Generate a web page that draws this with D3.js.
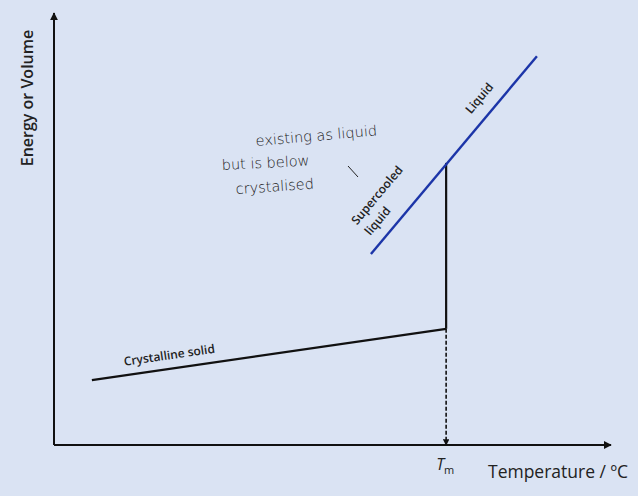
<!DOCTYPE html>
<html>
<head>
<meta charset="utf-8">
<script src="https://cdn.jsdelivr.net/npm/d3@7"></script>
<style>
  html, body { margin: 0; padding: 0; background: #dae3f3; }
  svg { display: block; }
  .label { font-family: "Open Sans", sans-serif; fill: #222; }
  .note { font-family: "DejaVu Sans", sans-serif; font-weight: 200; fill: #1a1a1a; }
</style>
</head>
<body>
<div id="chart"></div>
<script>
'use strict';

// --- DATA (arbitrary units, temperature on x, energy/volume on y)
var solidTemps = [0.68, 7.04];
var solidEnergy = [1.50, 2.69];
var liquidTemps = [5.69, 8.67];
var liquidEnergy = [4.42, 9.00];
var meltTemp = 7.04;
var jumpEnergy = [2.69, 6.53];
var noteLines = ['existing as liquid', 'but is below', 'crystalised'];

// --- PROPERTIES
var width = 638, height = 496;
var x = d3.scaleLinear().domain([0, 10]).range([54, 611]);
var y = d3.scaleLinear().domain([0, 10]).range([445, 13]);
var line = d3.line()
  .x(function(d) { return x(d[0]); })
  .y(function(d) { return y(d[1]); });

var svg = d3.select('#chart').append('svg')
  .attr('width', width)
  .attr('height', height);

svg.append('rect').attr('width', width).attr('height', height).attr('fill', '#dae3f3');

// arrow heads
var defs = svg.append('defs');
defs.append('marker')
  .attr('id', 'arrow')
  .attr('viewBox', '0 0 10 10')
  .attr('refX', 9).attr('refY', 5)
  .attr('markerWidth', 4).attr('markerHeight', 4)
  .attr('markerUnits', 'strokeWidth')
  .attr('orient', 'auto')
  .append('path').attr('d', 'M0,0 L10,5 L0,10 Z').attr('fill', '#111');

// --- AXES (plain arrows, no ticks)
svg.append('path')
  .attr('d', line([[0, 0], [0, 10]]))
  .attr('stroke', '#111').attr('stroke-width', 2).attr('fill', 'none')
  .attr('marker-end', 'url(#arrow)');
svg.append('path')
  .attr('d', line([[0, 0], [10, 0]]))
  .attr('stroke', '#111').attr('stroke-width', 2).attr('fill', 'none')
  .attr('marker-end', 'url(#arrow)');

// --- CURVES
svg.append('path')
  .attr('d', line(d3.zip(solidTemps, solidEnergy)))
  .attr('stroke', '#111').attr('stroke-width', 2.2).attr('fill', 'none');

svg.append('path')
  .attr('d', line([[meltTemp, jumpEnergy[0]], [meltTemp, jumpEnergy[1]]]))
  .attr('stroke', '#111').attr('stroke-width', 2.2).attr('fill', 'none');

svg.append('path')
  .attr('d', line(d3.zip(liquidTemps, liquidEnergy)))
  .attr('stroke', '#1c35a8').attr('stroke-width', 2.4).attr('fill', 'none');

// dashed drop to the melting point
svg.append('path')
  .attr('d', line([[meltTemp, jumpEnergy[0]], [meltTemp, 0]]))
  .attr('stroke', '#111').attr('stroke-width', 1.6).attr('fill', 'none')
  .attr('stroke-dasharray', '4,2')
  .attr('marker-end', 'url(#arrow)');

// --- LABELS
// place a label along a segment: t = fraction along it, off = px above it
var alongSegment = function(xs, ys, t, off) {
  var x0 = x(xs[0]), y0 = y(ys[0]), x1 = x(xs[1]), y1 = y(ys[1]);
  var len = Math.hypot(x1 - x0, y1 - y0);
  var ux = (x1 - x0) / len, uy = (y1 - y0) / len;
  var px = x0 + (x1 - x0) * t + uy * off;
  var py = y0 + (y1 - y0) * t - ux * off;
  var angle = Math.atan2(uy, ux) * 180 / Math.PI;
  return 'translate(' + px + ',' + py + ') rotate(' + angle + ')';
};

svg.append('text')
  .attr('class', 'label')
  .attr('transform', 'translate(33,98) rotate(-90)')
  .attr('text-anchor', 'middle')
  .attr('font-size', 16).attr('font-weight', 600)
  .text('Energy or Volume');

svg.append('text')
  .attr('class', 'label')
  .attr('x', 488).attr('y', 478)
  .attr('font-size', 17.5)
  .text('Temperature / \u00baC');

var tm = svg.append('text')
  .attr('class', 'label')
  .attr('x', x(meltTemp) - 10).attr('y', 470)
  .attr('font-size', 16);
tm.append('tspan').attr('font-style', 'italic').text('T');
tm.append('tspan').attr('font-size', 11).attr('dy', 4).text('m');

svg.append('text')
  .attr('class', 'label')
  .attr('transform', alongSegment(solidTemps, solidEnergy, 0.224, 9.5))
  .attr('text-anchor', 'middle')
  .attr('font-size', 12).attr('font-weight', 600)
  .text('Crystalline solid');

svg.append('text')
  .attr('class', 'label')
  .attr('transform', alongSegment(liquidTemps, liquidEnergy, 0.732, 13))
  .attr('text-anchor', 'middle')
  .attr('font-size', 12).attr('font-weight', 600)
  .text('Liquid');

svg.append('text')
  .attr('class', 'label')
  .attr('transform', alongSegment(liquidTemps, liquidEnergy, 0.19, 29))
  .attr('text-anchor', 'middle')
  .attr('font-size', 12).attr('font-weight', 600)
  .text('Supercooled');

svg.append('text')
  .attr('class', 'label')
  .attr('transform', alongSegment(liquidTemps, liquidEnergy, 0.115, 12))
  .attr('text-anchor', 'middle')
  .attr('font-size', 12).attr('font-weight', 600)
  .text('liquid');

// handwritten note
var notePos = [[256, 146, -5], [222, 170, -3], [236, 194, -4]];
noteLines.forEach(function(t, i) {
  svg.append('text')
    .attr('class', 'note')
    .attr('transform', 'translate(' + notePos[i][0] + ',' + notePos[i][1] + ') rotate(' + notePos[i][2] + ')')
    .attr('font-size', 14.5)
    .text(t);
});
svg.append('path')
  .attr('d', 'M348,166 L358,177')
  .attr('stroke', '#222').attr('stroke-width', 1).attr('fill', 'none');
</script>
</body>
</html>
